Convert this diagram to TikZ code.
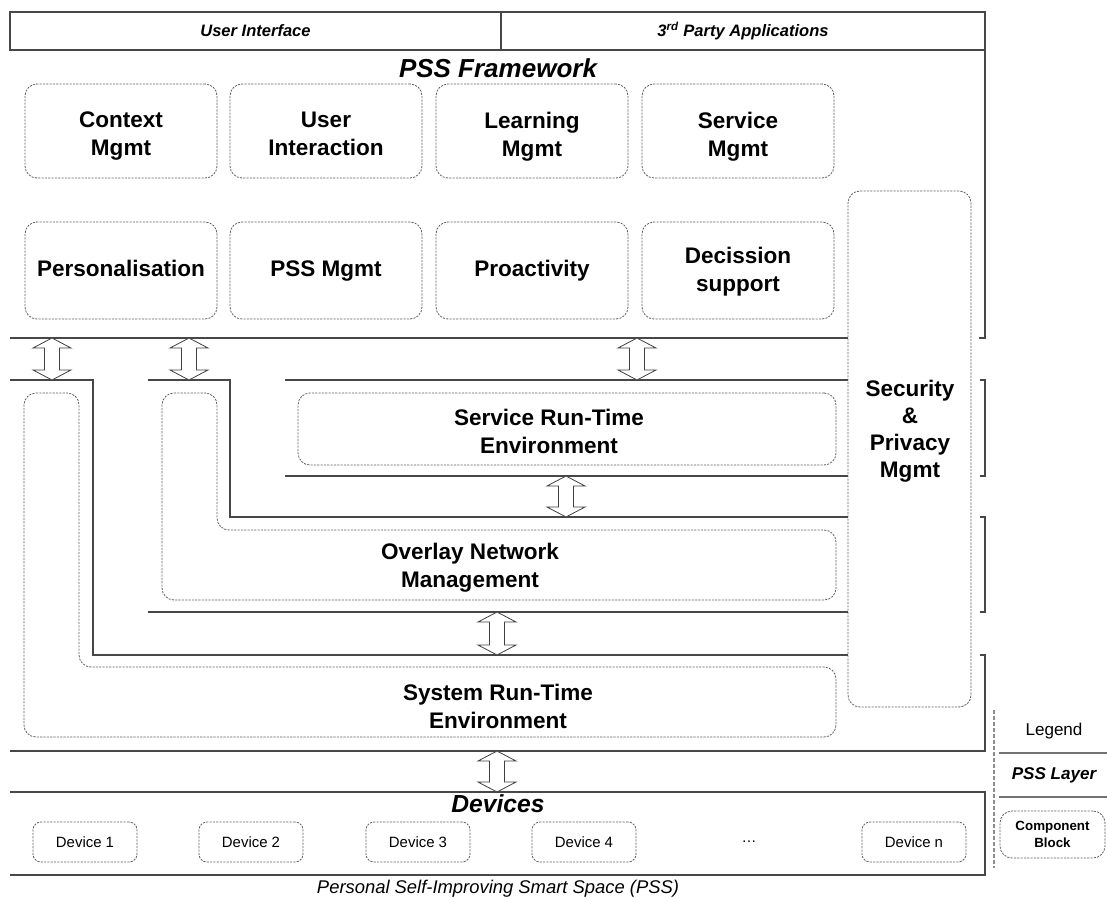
\documentclass[tikz,border=0pt]{standalone}
\usepackage{fontspec}
\setmainfont{Liberation Sans}
\usetikzlibrary{fit}
% font size given in pt (size, baseline skip)
\newcommand\pxsize[2]{\fontsize{#1pt}{#2pt}\selectfont}
% hollow double-headed passage arrow between two layers: x, top y, bottom y
\newcommand\passarrow[3]{%
  \draw[passage] (#1,#2) -- ++(19,10) -- ++(-11.5,0) -- (#1+7.5,#3-10) -- ++(11.5,0)
    -- (#1,#3) -- ++(-19,-10) -- ++(11.5,0) -- (#1-7.5,#2+10) -- ++(-11.5,0) -- cycle;}
\begin{document}
\begin{tikzpicture}[x=0.75pt,y=-0.75pt,
  wall/.style={draw=black!72,line width=1pt},
  lightwall/.style={draw=black!55,line width=0.9pt},
  block/.style={draw=black!62,line width=0.6pt,dash pattern=on 1.6pt off 0.9pt,rounded corners=9pt},
  blockbox/.style={block,fit={#1},inner sep=0pt},
  smallbox/.style={blockbox={#1},rounded corners=6pt},
  bigtxt/.style={font=\bfseries\pxsize{16.9}{21},align=center,text=black,
    execute at begin node={\strut},execute at end node={\strut}},
  devtxt/.style={font=\pxsize{11.2}{13}},
  titletxt/.style={font=\bfseries\itshape\pxsize{12.4}{15}},
  passage/.style={draw=black!75,fill=white,line width=0.6pt,line join=miter},
]
\useasboundingbox[fill=white] (0,0) rectangle (1107,899);

% ---- top bar ----
\draw[wall] (10,12) rectangle (985,50);
\draw[wall] (501,12) -- (501,50);
\node[titletxt] (ui) at (255.5,31) {User Interface};
\node[titletxt] (tpa) at (743,31) {3\textsuperscript{rd} Party Applications};

% ---- PSS framework layer ----
\draw[wall] (985,50) -- (985,338) -- (979,338);
\draw[wall] (10,338) -- (848,338);
\node[font=\bfseries\itshape\pxsize{19.5}{22}] (fw) at (498,68) {PSS Framework};

\node[blockbox={(25,84) (217,178)}] (ctx) {};
\node[blockbox={(230,84) (422,178)}] (uint) {};
\node[blockbox={(436,84) (628,178)}] (learn) {};
\node[blockbox={(642,84) (834,178)}] (svc) {};
\node[bigtxt] at ([yshift=-5.5pt]ctx.center) {Context\\Mgmt};
\node[bigtxt] at ([yshift=-5.5pt]uint.center) {User\\Interaction};
\node[bigtxt] at ([yshift=-5.5pt]learn.center) {Learning\\Mgmt};
\node[bigtxt] at ([yshift=-5.5pt]svc.center) {Service\\Mgmt};

\node[blockbox={(25,222) (217,319)}] (pers) {};
\node[blockbox={(230,222) (422,319)}] (pssm) {};
\node[blockbox={(436,222) (628,319)}] (proa) {};
\node[blockbox={(642,222) (834,319)}] (dec) {};
\node[bigtxt] at (pers.center) {Personalisation};
\node[bigtxt] at (pssm.center) {PSS Mgmt};
\node[bigtxt] at (proa.center) {Proactivity};
\node[bigtxt] at ([yshift=-2.2pt]dec.center) {Decission\\support};

% security spans all middle layers
\node[blockbox={(848,191) (971,707)}] (sec) {};
\node[font=\bfseries\pxsize{16.9}{20.25},align=center] (sectxt) at (910,431) {Security\\\&\\Privacy\\Mgmt};

% ---- service run-time layer ----
\draw[wall] (285,380) -- (848,380);
\draw[wall] (285,476) -- (848,476);
\draw[wall] (980,380) -- (985,380) -- (985,476) -- (980,476);
\node[blockbox={(298,393) (836,465)}] (srte) {};
\node[bigtxt] (srtetxt) at (549,436) {Service Run-Time\\Environment};

% ---- overlay network layer ----
\draw[wall] (148,380) -- (230,380) -- (230,517) -- (848,517);
\draw[wall] (148,612) -- (848,612);
\draw[wall] (980,517) -- (985,517) -- (985,612) -- (980,612);
\draw[block] (162,393) -- (217,393) -- (217,530) -- (836,530) -- (836,600) -- (162,600) -- cycle;
\node[bigtxt] (ovltxt) at (470,570) {Overlay Network\\Management};

% ---- system run-time layer ----
\draw[wall] (10,380) -- (93,380) -- (93,655) -- (848,655);
\draw[wall] (10,751) -- (985,751) -- (985,655) -- (980,655);
\draw[block] (24,393) -- (79,393) -- (79,667) -- (836,667) -- (836,737) -- (24,737) -- cycle;
\node[bigtxt] (systxt) at (498,711) {System Run-Time\\Environment};

% ---- passages between layers ----
\coordinate (pa) at (52,338);  \passarrow{52}{338}{380}
\coordinate (pb) at (189,338); \passarrow{189}{338}{380}
\coordinate (pc) at (637,338); \passarrow{637}{338}{380}
\coordinate (pd) at (566,476); \passarrow{566}{476}{517}
\coordinate (pe) at (497,612); \passarrow{497}{612}{655}
\coordinate (pf) at (497,751); \passarrow{497}{751}{792}

% ---- devices ----
\draw[wall] (10,792) -- (985,792) -- (985,875) -- (10,875);
\node[font=\bfseries\itshape\pxsize{18.5}{22}] (devs) at (498,804) {Devices};
\node[smallbox={(33,822) (137,862)}] (d1) {};
\node[smallbox={(199,822) (303,862)}] (d2) {};
\node[smallbox={(366,822) (470,862)}] (d3) {};
\node[smallbox={(532,822) (636,862)}] (d4) {};
\node[smallbox={(862,822) (966,862)}] (dn) {};
\node[devtxt] at (d1.center) {Device 1};
\node[devtxt] at (d2.center) {Device 2};
\node[devtxt] at (d3.center) {Device 3};
\node[devtxt] at (d4.center) {Device 4};
\node[devtxt] (dots) at (749,842) {\dots};
\node[devtxt] at (dn.center) {Device n};

\node[font=\itshape\pxsize{13.8}{16}] (cap) at (498,889) {Personal Self-Improving Smart Space (PSS)};

% ---- legend ----
\draw[draw=black!45,line width=0.8pt,dash pattern=on 3pt off 1.5pt] (994,710) -- (994,868);
\node[font=\pxsize{12.8}{15}] (leg) at (1054,731) {Legend};
\draw[lightwall] (999,753) -- (1107,753);
\node[font=\bfseries\itshape\pxsize{12.8}{15}] (legl) at (1054,775) {PSS Layer};
\draw[lightwall] (999,797) -- (1107,797);
\node[blockbox={(1000,811) (1105,858)}] (legb) {};
\node[font=\bfseries\pxsize{10}{12.5},align=center] at (legb.center) {Component\\Block};
\end{tikzpicture}
\end{document}
